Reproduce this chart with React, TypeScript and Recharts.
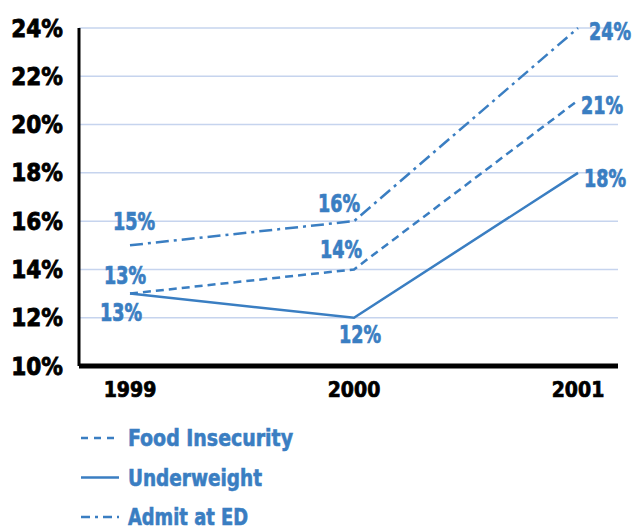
import { LineChart, Line, XAxis, YAxis, CartesianGrid, LabelList } from "recharts";

const years = ["1999", "2000", "2001"];
const foodInsecurity = [13, 14, 21];
const underweight = [13, 12, 18];
const admitAtEd = [15, 16, 24];
const yTicks = [10, 12, 14, 16, 18, 20, 22, 24];

const data = years.map((year, i) => ({
  year,
  food: foodInsecurity[i],
  under: underweight[i],
  admit: admitAtEd[i],
}));

const BLUE = "#3a7ec2";
const FONT = "'DejaVu Sans Condensed', sans-serif";

// label nudges (dx, dy) per point, relative to the data point
const foodOffsets = [[-5, -18], [-13, -19], [24, 6]];
const underOffsets = [[-9, 19], [6, 17], [27, 6]];
const admitOffsets = [[4, -23], [-15, -17], [32, 4]];

const makeLabel = (offsets: number[][]) => (props: any) => {
  const { x, y, index, value } = props;
  const [dx, dy] = offsets[index] || [0, 0];
  return (
    <text
      x={x + dx}
      y={y + dy}
      textAnchor="middle"
      dominantBaseline="central"
      fill={BLUE}
      stroke={BLUE}
      strokeWidth={0.7}
      fontFamily={FONT}
      fontWeight="bold"
      fontSize={24}
      textLength={42}
      lengthAdjust="spacingAndGlyphs"
    >
      {value}%
    </text>
  );
};

const legendItems = [
  { label: "Food Insecurity", dash: "7 6", width: 165 },
  { label: "Underweight", dash: undefined, width: 134 },
  { label: "Admit at ED", dash: "9 5 3 5", width: 120 },
];

export default function App() {
  return (
    <div style={{ position: "absolute", left: 0, top: 0, width: 633, height: 527, background: "#fff" }}>
      <LineChart width={633} height={527} data={data} margin={{ top: 28, right: 15, bottom: 121, left: 0 }}>
        <CartesianGrid horizontal vertical={false} stroke="#c6d4ee" strokeWidth={1.5} />
        <XAxis
          dataKey="year"
          type="category"
          scale="point"
          padding={{ left: 51, right: 40 }}
          height={40}
          tickSize={0}
          tickMargin={16}
          axisLine={{ stroke: "#000", strokeWidth: 5 }}
          tick={{ fill: "#000", stroke: "#000", strokeWidth: 0.7, fontFamily: FONT, fontWeight: "bold", fontSize: 21 }}
        />
        <YAxis
          domain={[10, 24]}
          ticks={yTicks}
          width={79}
          tickSize={0}
          tickMargin={16}
          tickFormatter={(v: number) => `${v}%`}
          axisLine={{ stroke: "#000", strokeWidth: 3 }}
          tick={{ fill: "#000", stroke: "#000", strokeWidth: 0.8, fontFamily: FONT, fontWeight: "bold", fontSize: 24 }}
        />
        <Line dataKey="food" stroke={BLUE} strokeWidth={2.5} strokeDasharray="8 5" dot={false} isAnimationActive={false}>
          <LabelList dataKey="food" content={makeLabel(foodOffsets)} />
        </Line>
        <Line dataKey="under" stroke={BLUE} strokeWidth={2.5} dot={false} isAnimationActive={false}>
          <LabelList dataKey="under" content={makeLabel(underOffsets)} />
        </Line>
        <Line dataKey="admit" stroke={BLUE} strokeWidth={2.5} strokeDasharray="13 5 3 5" dot={false} isAnimationActive={false}>
          <LabelList dataKey="admit" content={makeLabel(admitOffsets)} />
        </Line>
      </LineChart>
      <svg width={633} height={110} style={{ position: "absolute", left: 0, top: 417 }}>
        {legendItems.map((item, i) => {
          const cy = 21 + i * 39.5;
          return (
            <g key={item.label}>
              <line x1={81} y1={cy} x2={119} y2={cy} stroke={BLUE} strokeWidth={2.5} strokeDasharray={item.dash} />
              <text
                x={128}
                y={cy}
                dominantBaseline="central"
                fill={BLUE}
                stroke={BLUE}
                strokeWidth={0.6}
                fontFamily={FONT}
                fontWeight="bold"
                fontSize={23}
                textLength={item.width}
                lengthAdjust="spacingAndGlyphs"
              >
                {item.label}
              </text>
            </g>
          );
        })}
      </svg>
    </div>
  );
}
